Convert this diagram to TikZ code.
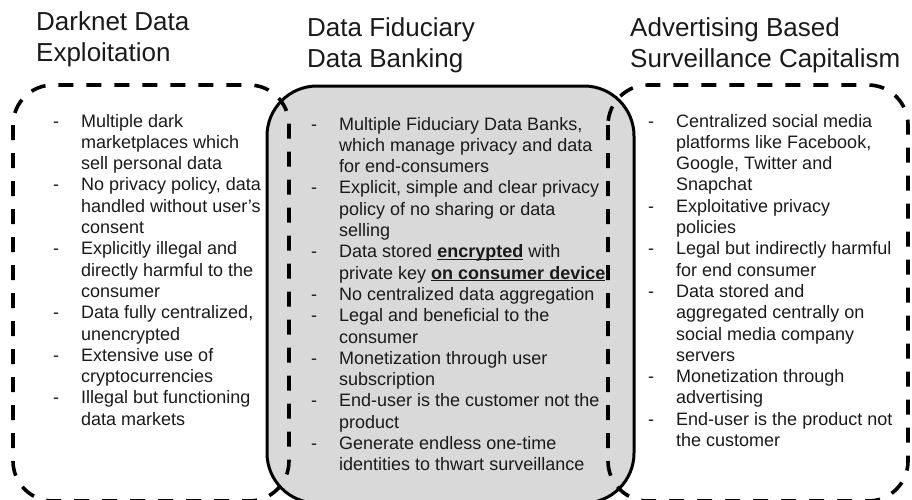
\documentclass[tikz,border=0pt]{standalone}
\usepackage{fontspec}
\setmainfont{Liberation Sans}
\usepackage{array}

\definecolor{bankgray}{HTML}{D9D9D9}
\definecolor{ink}{HTML}{1A1A1A}

% bold + underlined words in the notes
\newcommand{\ulbf}[1]{\underline{\smash{\textbf{#1}}}}

\tikzset{
  heading/.style={anchor=base west, inner sep=0pt, text=ink,
    font=\fontsize{26}{31}\selectfont},
  notes/.style={anchor=base west, inner sep=0pt, text=ink,
    font=\fontsize{18}{21.3}\selectfont},
  dashbox/.style={line width=3.6pt, dash pattern=on 15pt off 13pt,
    rounded corners=40pt},
}

\begin{document}
\begin{tikzpicture}[x=1pt, y=-1pt]
\useasboundingbox (0,0) rectangle (912,499);

% grey panel in the middle
\fill[bankgray, rounded corners=50pt] (267,86) rectangle (634,503);

% the two dashed panels either side
\draw[dashbox] (13,85) rectangle (289,501);
\draw[dashbox] (608,85) rectangle (908,501);

\draw[line width=3pt, rounded corners=50pt] (267,86) rectangle (634,503);

% headings
\node[heading] (darknet) at (36,30)
  {\begin{tabular}[t]{@{}l@{}}Darknet Data\\Exploitation\end{tabular}};
\node[heading] (fiduciary) at (307,36)
  {\begin{tabular}[t]{@{}l@{}}Data Fiduciary\\Data Banking\end{tabular}};
\node[heading] (advertising) at (630,36)
  {\begin{tabular}[t]{@{}l@{}}Advertising Based\\Surveillance Capitalism\end{tabular}};

% bullet lists
\node[notes] (darknet list) at (53,127) {\begin{tabular}[t]{@{}p{28pt}@{}l@{}}
- & Multiple dark\\
  & marketplaces which\\
  & sell personal data\\
- & No privacy policy, data\\
  & handled without user's\\
  & consent\\
- & Explicitly illegal and\\
  & directly harmful to the\\
  & consumer\\
- & Data fully centralized,\\
  & unencrypted\\
- & Extensive use of\\
  & cryptocurrencies\\
- & Illegal but functioning\\
  & data markets
\end{tabular}};

\node[notes] (fiduciary list) at (311,130) {\begin{tabular}[t]{@{}p{28pt}@{}l@{}}
- & Multiple Fiduciary Data Banks,\\
  & which manage privacy and data\\
  & for end-consumers\\
- & Explicit, simple and clear privacy\\
  & policy of no sharing or data\\
  & selling\\
- & Data stored \ulbf{encrypted} with\\
  & private key \ulbf{on consumer device}\\
- & No centralized data aggregation\\
- & Legal and beneficial to the\\
  & consumer\\
- & Monetization through user\\
  & subscription\\
- & End-user is the customer not the\\
  & product\\
- & Generate endless one-time\\
  & identities to thwart surveillance
\end{tabular}};

\node[notes] (advertising list) at (648,127) {\begin{tabular}[t]{@{}p{28pt}@{}l@{}}
- & Centralized social media\\
  & platforms like Facebook,\\
  & Google, Twitter and\\
  & Snapchat\\
- & Exploitative privacy\\
  & policies\\
- & Legal but indirectly harmful\\
  & for end consumer\\
- & Data stored and\\
  & aggregated centrally on\\
  & social media company\\
  & servers\\
- & Monetization through\\
  & advertising\\
- & End-user is the product not\\
  & the customer
\end{tabular}};
\end{tikzpicture}
\end{document}
